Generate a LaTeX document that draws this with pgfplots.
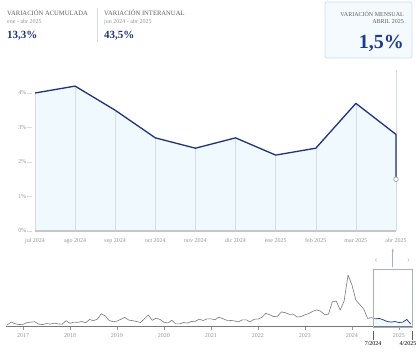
\documentclass[border=0pt]{standalone}
\usepackage{fontspec}
\setmainfont{Liberation Serif}
\usepackage{pgfplots}
\pgfplotsset{compat=1.18}
\usetikzlibrary{arrows.meta}
\definecolor{navy}{RGB}{33,50,122}
\definecolor{areafill}{RGB}{240,249,253}
\definecolor{gridc}{RGB}{215,220,228}
\definecolor{lab}{RGB}{150,150,150}
\definecolor{hdr}{RGB}{95,95,95}
\definecolor{bigblue}{RGB}{30,60,140}
\definecolor{boxfill}{RGB}{244,250,253}
\definecolor{boxdraw}{RGB}{205,225,238}
\definecolor{spark}{RGB}{120,120,120}
\definecolor{win}{RGB}{165,175,210}
\begin{document}
\begin{tikzpicture}[x=1pt,y=1pt]
\path[use as bounding box, fill=white] (0,0) rectangle (420,355);
% header left
\node[anchor=base west, font=\fontsize{6.6}{7}\selectfont, text=hdr, inner sep=0] at (7,339) {VARIACIÓN ACUMULADA};
\node[anchor=base west, font=\fontsize{6}{6}\selectfont, text=lab, inner sep=0] at (7,331) {ene - abr 2025};
\node[anchor=base west, font=\fontsize{11}{12}\selectfont\bfseries, text=navy, inner sep=0] at (7,316) {13,3\%};
\draw[gridc, line width=0.6pt] (97,347) -- (97,313);
\node[anchor=base west, font=\fontsize{6.6}{7}\selectfont, text=hdr, inner sep=0] at (104,339) {VARIACIÓN INTERANUAL};
\node[anchor=base west, font=\fontsize{6}{6}\selectfont, text=lab, inner sep=0] at (104,331) {jun 2024 - abr 2025};
\node[anchor=base west, font=\fontsize{11}{12}\selectfont\bfseries, text=navy, inner sep=0] at (104,316) {43,5\%};
% header right box
\draw[boxdraw, fill=boxfill, rounded corners=2pt, line width=0.8pt] (325,297) rectangle (412,353);
\node[anchor=base east, font=\fontsize{6}{6}\selectfont, text=hdr, inner sep=0] at (404,338) {VARIACIÓN MENSUAL};
\node[anchor=base east, font=\fontsize{6}{6}\selectfont, text=hdr, inner sep=0] at (404,331) {ABRIL 2025};
\node[anchor=base east, font=\fontsize{20}{22}\selectfont\bfseries, text=bigblue, inner sep=0] at (404,306) {1,5\%};

% main chart
\begin{axis}[at={(35pt,124pt)}, anchor=south west, scale only axis,
  width=361pt, height=161pt, xmin=0, xmax=9, ymin=0, ymax=4.667,
  axis line style={draw=none}, clip=false,
  xtick={0,...,9}, xtick pos=lower, ytick pos=left,
  xticklabels={jul 2024,ago 2024,sep 2024,oct 2024,nov 2024,dic 2024,ene 2025,feb 2025,mar 2025,abr 2025},
  ytick={0,1,2,3,4}, yticklabels={0\%,1\%,2\%,3\%,4\%},
  x tick label style={font=\fontsize{6}{6}\selectfont, text=lab, yshift=1pt},
  y tick label style={font=\fontsize{6}{6}\selectfont, text=lab},
  xtick style={draw=none},
  ytick style={draw=gridc, line width=0.6pt, xshift=-3pt},
  major tick length=5pt, tick align=outside]
\addplot[fill=areafill, draw=none] coordinates {(0,4.0)(1,4.2)(2,3.5)(3,2.7)(4,2.4)(5,2.7)(6,2.2)(7,2.4)(8,3.7)(9,2.8)} \closedcycle;
\addplot[gridc, line width=0.5pt] coordinates {(9,0)(9,4.667)};
\addplot[ycomb, gridc, line width=0.5pt, mark=none] coordinates {(0,4.0)(1,4.2)(2,3.5)(3,2.7)(4,2.4)(5,2.7)(6,2.2)(7,2.4)(8,3.7)};
\addplot[draw=gray!45, line width=1.2pt] coordinates {(0,0)(9,0)};
\addplot[navy, line width=1.3pt, line join=round] coordinates {(0,4.0)(1,4.2)(2,3.5)(3,2.7)(4,2.4)(5,2.7)(6,2.2)(7,2.4)(8,3.7)(9,2.8)(9,1.5)};
\addplot[only marks, mark=*, mark size=2.3pt, mark options={fill=white, draw=gray!80, line width=0.6pt}] coordinates {(9,1.5)};
\end{axis}

% overview chart
\begin{axis}[at={(5pt,28pt)}, anchor=south west, scale only axis,
  width=410pt, height=65pt, xmin=-0.6, xmax=104.1, ymin=0, ymax=31.9,
  axis line style={draw=none}, clip=false,
  xtick={4,16,28,40,52,64,76,88,100}, xtick pos=lower,
  xticklabels={2017,2018,2019,2020,2021,2022,2023,2024,2025},
  ytick=\empty,
  x tick label style={font=\fontsize{6}{6}\selectfont, text=lab, yshift=0pt},
  xtick style={draw=lab, line width=0.4pt},
  major tick length=3pt, tick align=outside]
\addplot[fill=areafill, draw=none] coordinates {(94,4.0)(95,4.2)(96,3.5)(97,2.7)(98,2.4)(99,2.7)(100,2.2)(101,2.4)(102,3.7)(103,1.5)} \closedcycle;
\addplot[spark, line width=0.6pt, line join=round] coordinates {
(0,1.1)(1,2.4)(2,1.6)(3,1.2)
(4,1.3)(5,2.1)(6,2.4)(7,2.6)(8,1.4)(9,1.2)(10,1.7)(11,1.4)(12,1.9)(13,1.5)(14,1.4)(15,3.1)
(16,1.8)(17,2.4)(18,2.3)(19,2.7)(20,2.1)(21,3.7)(22,3.1)(23,3.9)(24,6.5)(25,5.4)(26,3.2)(27,2.6)
(28,2.9)(29,3.8)(30,4.7)(31,3.4)(32,3.1)(33,2.7)(34,2.2)(35,4.0)(36,5.9)(37,3.3)(38,4.3)(39,3.7)
(40,2.3)(41,2.0)(42,3.3)(43,1.5)(44,1.5)(45,2.2)(46,1.9)(47,2.7)(48,2.8)(49,3.8)(50,3.2)(51,4.0)
(52,4.0)(53,3.6)(54,4.8)(55,4.1)(56,3.3)(57,3.2)(58,3.0)(59,2.5)(60,3.5)(61,3.5)(62,2.5)(63,3.8)
(64,3.9)(65,4.7)(66,6.7)(67,6.0)(68,5.1)(69,5.3)(70,7.4)(71,7.0)(72,6.2)(73,6.3)(74,4.9)(75,5.1)
(76,6.0)(77,6.6)(78,7.7)(79,8.4)(80,7.8)(81,6.0)(82,6.3)(83,12.4)(84,12.7)(85,8.3)(86,12.8)(87,25.5)
(88,20.6)(89,13.2)(90,11.0)(91,8.8)(92,4.2)(93,4.6)(94,4.0)};
\addplot[navy, line width=0.7pt, line join=round] coordinates {(94,4.0)(95,4.2)(96,3.5)(97,2.7)(98,2.4)(99,2.7)(100,2.2)(101,2.4)(102,3.7)(103,1.5)};
\addplot[draw=spark, line width=1pt] coordinates {(-0.3,0)(103.5,0)};
\draw[win, line width=0.6pt] (axis cs:93.4,0) rectangle (axis cs:103.3,28.4);
\draw[win, line width=0.6pt, -{Stealth[length=3pt]}] (axis cs:98.4,29.5) -- (axis cs:98.4,38.5);
\node[text=win, font=\fontsize{9}{9}\selectfont, inner sep=0] at (axis cs:94.2,32.5) {‹};
\node[text=win, font=\fontsize{9}{9}\selectfont, inner sep=0] at (axis cs:102.5,32.5) {›};
\draw[hdr, line width=0.5pt] (axis cs:93.4,-2) -- (axis cs:93.4,-6.5);
\draw[hdr, line width=0.5pt] (axis cs:103.3,-2) -- (axis cs:103.3,-6.5);
\node[anchor=north, font=\fontsize{6}{6}\selectfont, text=black, inner sep=0] at (axis cs:93.4,-7) {7/2024};
\node[anchor=north, font=\fontsize{6}{6}\selectfont, text=black, inner sep=0] at (axis cs:102.3,-7) {4/2025};
\end{axis}
\end{tikzpicture}
\end{document}
